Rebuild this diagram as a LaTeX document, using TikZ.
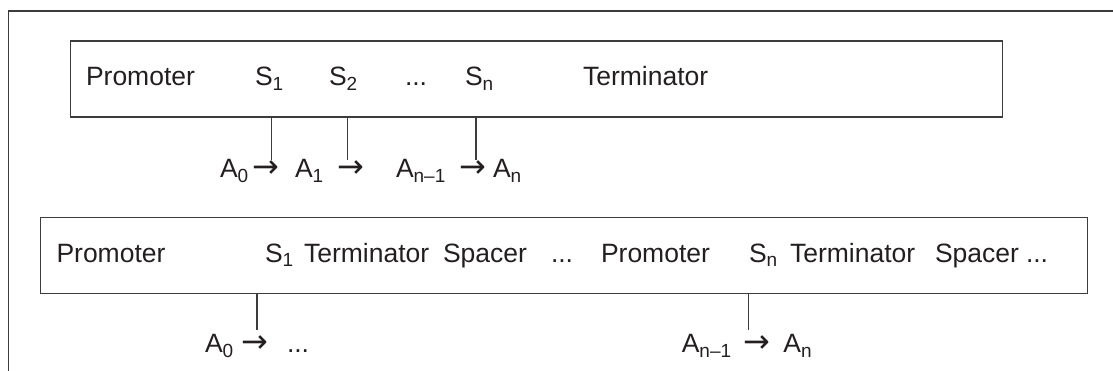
\documentclass[tikz,border=0pt]{standalone}
\usepackage{fontspec}
\setmainfont{Liberation Sans}
\newfontfamily\arrfont{DejaVu Sans}
\definecolor{txt}{HTML}{231F20}
\definecolor{ln}{HTML}{3C3C3C}
\newcommand\sbx[1]{\raisebox{-5pt}{\fontsize{19}{19}\selectfont #1}}
\begin{document}
\begin{tikzpicture}[x=1pt,y=-1pt,
  lbl/.style={anchor=base west, inner sep=0pt, outer sep=0pt, font=\fontsize{26.5}{30}\selectfont, text=txt},
  arrlbl/.style={anchor=base west, inner sep=0pt, outer sep=0pt, font=\arrfont\fontsize{32}{34}\selectfont, text=txt},
  box/.style={draw=ln, line width=1.3pt, inner sep=0pt, outer sep=0pt, anchor=north west, minimum height=76pt},
  conn/.style={draw=ln, line width=1.2pt},
  frame/.style={draw=ln, line width=1.5pt}]
\useasboundingbox (0,0) rectangle (1113,371);
% outer frame (open to the right and bottom)
\coordinate (fbl) at (8.5,371);
\coordinate (ftl) at (8.5,11);
\coordinate (ftr) at (1113,11);
\draw[frame] (fbl) -- (ftl) -- (ftr);

% top box
\node[box, minimum width=932pt] (topbox) at (70.4,41) {};
\node[lbl] (p1) at (86,86) {Promoter};
\node[lbl] (s1) at (255,86) {S\sbx{1}};
\node[lbl] (s2) at (329,86) {S\sbx{2}};
\node[lbl] (d1) at (405,86) {...};
\node[lbl] (sn) at (465,86) {S\sbx{n}};
\node[lbl] (t1) at (583,86) {Terminator};

\node[lbl] (a0) at (220,178) {A\sbx{0}};
\node[arrlbl] (ar1) at (252,178) {→};
\node[lbl] (a1) at (295,178) {A\sbx{1}};
\node[arrlbl] (ar2) at (337,178) {→};
\node[lbl] (an1) at (396,178) {A\sbx{n–1}};
\node[arrlbl] (ar3) at (459,178) {→};
\node[lbl] (an) at (493,178) {A\sbx{n}};

\coordinate (c1) at (271.8,160);
\coordinate (c2) at (347.5,160);
\coordinate (c3) at (476,160);
\draw[conn] (topbox.south -| c1) -- (c1);
\draw[conn] (topbox.south -| c2) -- (c2);
\draw[conn] (topbox.south -| c3) -- (c3);

% bottom box
\node[box, minimum width=1047pt] (botbox) at (40.4,217.7) {};
\node[lbl] (bp1) at (56.5,262) {Promoter};
\node[lbl] (bs1) at (265,262) {S\sbx{1}};
\node[lbl] (bt1) at (304,262) {Terminator};
\node[lbl] (bsp1) at (443,262) {Spacer};
\node[lbl] (bd1) at (551,262) {...};
\node[lbl] (bp2) at (601,262) {Promoter};
\node[lbl] (bsn) at (749,262) {S\sbx{n}};
\node[lbl] (bt2) at (790,262) {Terminator};
\node[lbl] (bsp2) at (935,262) {Spacer};
\node[lbl] (bd2) at (1026,262) {...};

\node[lbl] (ba0) at (205,352) {A\sbx{0}};
\node[arrlbl] (bar1) at (241,352) {→};
\node[lbl] (bd3) at (287,352) {...};
\node[lbl] (ban1) at (681.8,352) {A\sbx{n–1}};
\node[arrlbl] (bar2) at (743,352) {→};
\node[lbl] (ban) at (783.4,352) {A\sbx{n}};

\coordinate (e1) at (257,330);
\coordinate (e2) at (748.2,330);
\draw[conn] (botbox.south -| e1) -- (e1);
\draw[conn] (botbox.south -| e2) -- (e2);
\end{tikzpicture}
\end{document}
